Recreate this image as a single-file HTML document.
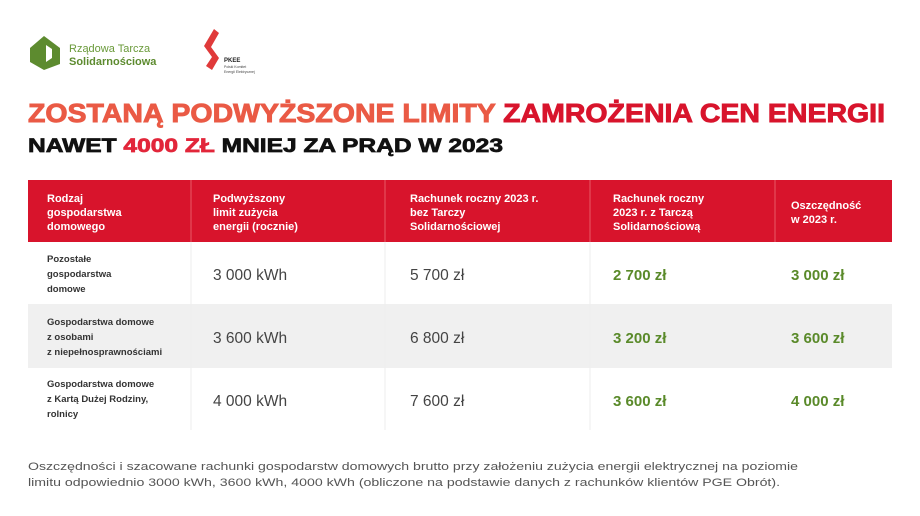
<!DOCTYPE html>
<html><head><meta charset="utf-8"><style>
html,body{margin:0;padding:0;background:#fff;width:920px;height:516px;overflow:hidden}
svg text{font-family:"Liberation Sans",sans-serif}
</style></head><body>
<svg width="920" height="516" viewBox="0 0 920 516" xmlns="http://www.w3.org/2000/svg">
<rect width="920" height="516" fill="#fff"/>
<path d="M44 36 L60 48 L60 64 L44 70 L30 62 L30 48 Z" fill="#5d8b2f"/>
<path d="M46 45 L46 62 L52 58 L52 49 Z" fill="#fff"/>
<text x="69" y="52" font-size="11" fill="#6a9a3a">Rządowa Tarcza</text>
<text x="69" y="65" font-size="11" font-weight="bold" fill="#5d8b2f">Solidarnościowa</text>
<path d="M214 29 L219 33 L211 47 L219 58 L212 70 L206 66 L212 57 L204 46 Z" fill="#e03a3a"/>
<text x="224" y="62" font-size="6" font-weight="bold" fill="#222">PKEE</text>
<text x="224" y="68" font-size="3.5" fill="#444">Polski Komitet</text>
<text x="224" y="73" font-size="3.5" fill="#444">Energii Elektrycznej</text>
<text x="28" y="122" font-size="26" font-weight="bold" stroke-width="0.9" textLength="857" lengthAdjust="spacingAndGlyphs"><tspan fill="#ea5a45" stroke="#ea5a45">ZOSTANĄ PODWYŻSZONE LIMITY </tspan><tspan fill="#d8142c" stroke="#d8142c">ZAMROŻENIA CEN ENERGII</tspan></text>
<text x="28" y="152" font-size="19" font-weight="bold" stroke-width="0.7" textLength="475" lengthAdjust="spacingAndGlyphs"><tspan fill="#111" stroke="#111">NAWET </tspan><tspan fill="#e2263a" stroke="#e2263a">4000 ZŁ</tspan><tspan fill="#111" stroke="#111"> MNIEJ ZA PRĄD W 2023</tspan></text>
<rect x="28" y="180" width="864" height="62" fill="#d8142c"/>
<g stroke="#e85a66" stroke-width="1">
<line x1="191" y1="180" x2="191" y2="242"/><line x1="385" y1="180" x2="385" y2="242"/>
<line x1="590" y1="180" x2="590" y2="242"/><line x1="775" y1="180" x2="775" y2="242"/>
</g>
<g fill="#fff" font-size="11" font-weight="bold">
<text x="47" y="202">Rodzaj</text><text x="47" y="216">gospodarstwa</text><text x="47" y="230">domowego</text>
<text x="213" y="202">Podwyższony</text><text x="213" y="216">limit zużycia</text><text x="213" y="230">energii (rocznie)</text>
<text x="410" y="202">Rachunek roczny 2023 r.</text><text x="410" y="216">bez Tarczy</text><text x="410" y="230">Solidarnościowej</text>
<text x="613" y="202">Rachunek roczny</text><text x="613" y="216">2023 r. z Tarczą</text><text x="613" y="230">Solidarnościową</text>
<text x="791" y="209">Oszczędność</text><text x="791" y="223">w 2023 r.</text>
</g>
<rect x="28" y="304" width="864" height="64" fill="#f0f0f0"/>
<g stroke="#eee" stroke-width="1"><line x1="590" y1="242" x2="590" y2="430"/><line x1="385" y1="242" x2="385" y2="430"/><line x1="191" y1="242" x2="191" y2="430"/></g>
<g fill="#333" font-size="9.5" font-weight="bold">
<text x="47" y="262">Pozostałe</text><text x="47" y="277">gospodarstwa</text><text x="47" y="292">domowe</text>
<text x="47" y="325">Gospodarstwa domowe</text><text x="47" y="340">z osobami</text><text x="47" y="355">z niepełnosprawnościami</text>
<text x="47" y="387">Gospodarstwa domowe</text><text x="47" y="402">z Kartą Dużej Rodziny,</text><text x="47" y="417">rolnicy</text>
</g>
<g fill="#444" font-size="15.5">
<text x="213" y="280">3 000 kWh</text><text x="213" y="343">3 600 kWh</text><text x="213" y="406">4 000 kWh</text>
<text x="410" y="280">5 700 zł</text><text x="410" y="343">6 800 zł</text><text x="410" y="406">7 600 zł</text>
</g>
<g fill="#5a8a2a" font-size="15" font-weight="bold">
<text x="613" y="280">2 700 zł</text><text x="613" y="343">3 200 zł</text><text x="613" y="406">3 600 zł</text>
<text x="791" y="280">3 000 zł</text><text x="791" y="343">3 600 zł</text><text x="791" y="406">4 000 zł</text>
</g>
<g fill="#555" font-size="11">
<text x="28" y="470" textLength="770" lengthAdjust="spacingAndGlyphs">Oszczędności i szacowane rachunki gospodarstw domowych brutto przy założeniu zużycia energii elektrycznej na poziomie</text>
<text x="28" y="486" textLength="752" lengthAdjust="spacingAndGlyphs">limitu odpowiednio 3000 kWh, 3600 kWh, 4000 kWh (obliczone na podstawie danych z rachunków klientów PGE Obrót).</text>
</g>
</svg>
</body></html>
